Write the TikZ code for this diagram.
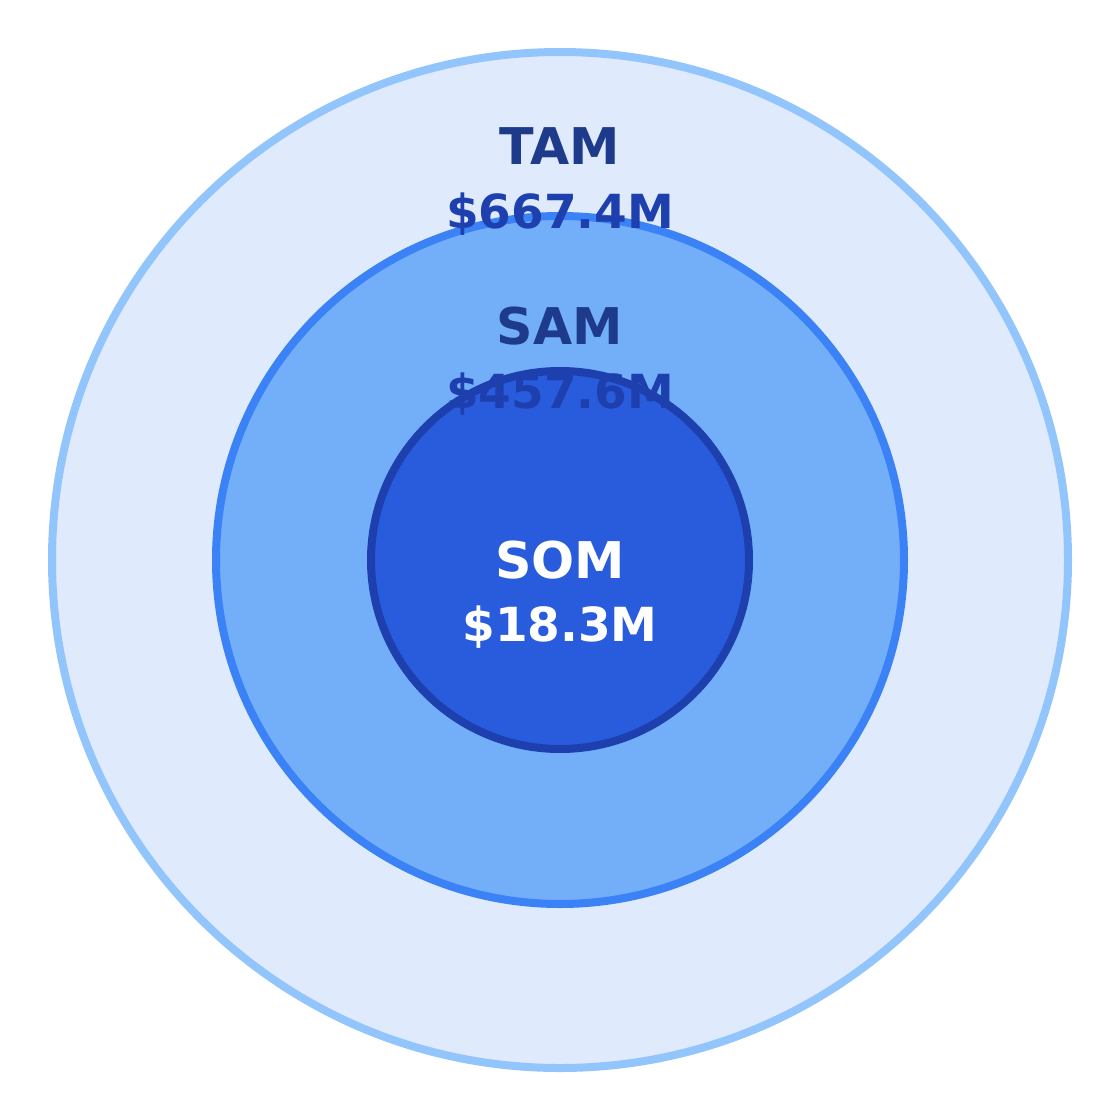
\documentclass[tikz,border=0pt]{standalone}
\usepackage{fontspec}
\setmainfont{DejaVu Sans}
\usepackage{tikz}
\definecolor{tamfill}{HTML}{DFEAFD}
\definecolor{tamline}{HTML}{93C5FD}
\definecolor{samfill}{HTML}{72AFF8}
\definecolor{samline}{HTML}{3B82F6}
\definecolor{somfill}{HTML}{295CDC}
\definecolor{somline}{HTML}{1E40AF}
\definecolor{labtext}{HTML}{1E3A8A}
\definecolor{valtext}{HTML}{1E40AF}
\newcommand{\marketring}[3]{\filldraw[fill=#2, draw=#3, line width=8*0.7113pt] (560,560) circle [radius=#1];}
\tikzset{mlabel/.style={anchor=base, font=\bfseries\fontsize{36}{36}\selectfont, inner sep=0pt},
         mvalue/.style={anchor=base, font=\bfseries\fontsize{33.4}{33.4}\selectfont, inner sep=0pt}}

\begin{document}
\begin{tikzpicture}[x=0.025cm, y=-0.025cm]
        \useasboundingbox (0,0) rectangle (1120,1120);
        %rings
        \marketring{508}{tamfill}{tamline}
        \marketring{344}{samfill}{samline}
        \marketring{189}{somfill}{somline}
        %labels
        \node[mlabel, text=labtext] (tam) at (560,164) {TAM};
        \node[mvalue, text=valtext] (tamval) at (560,228) {\$667.4M};
        \node[mlabel, text=labtext] (sam) at (560,344) {SAM};
        \node[mvalue, text=valtext] (samval) at (560,408) {\$457.6M};
        \node[mlabel, text=white] (som) at (560,578) {SOM};
        \node[mvalue, text=white] (somval) at (560,641) {\$18.3M};
    \end{tikzpicture}
\end{document}
